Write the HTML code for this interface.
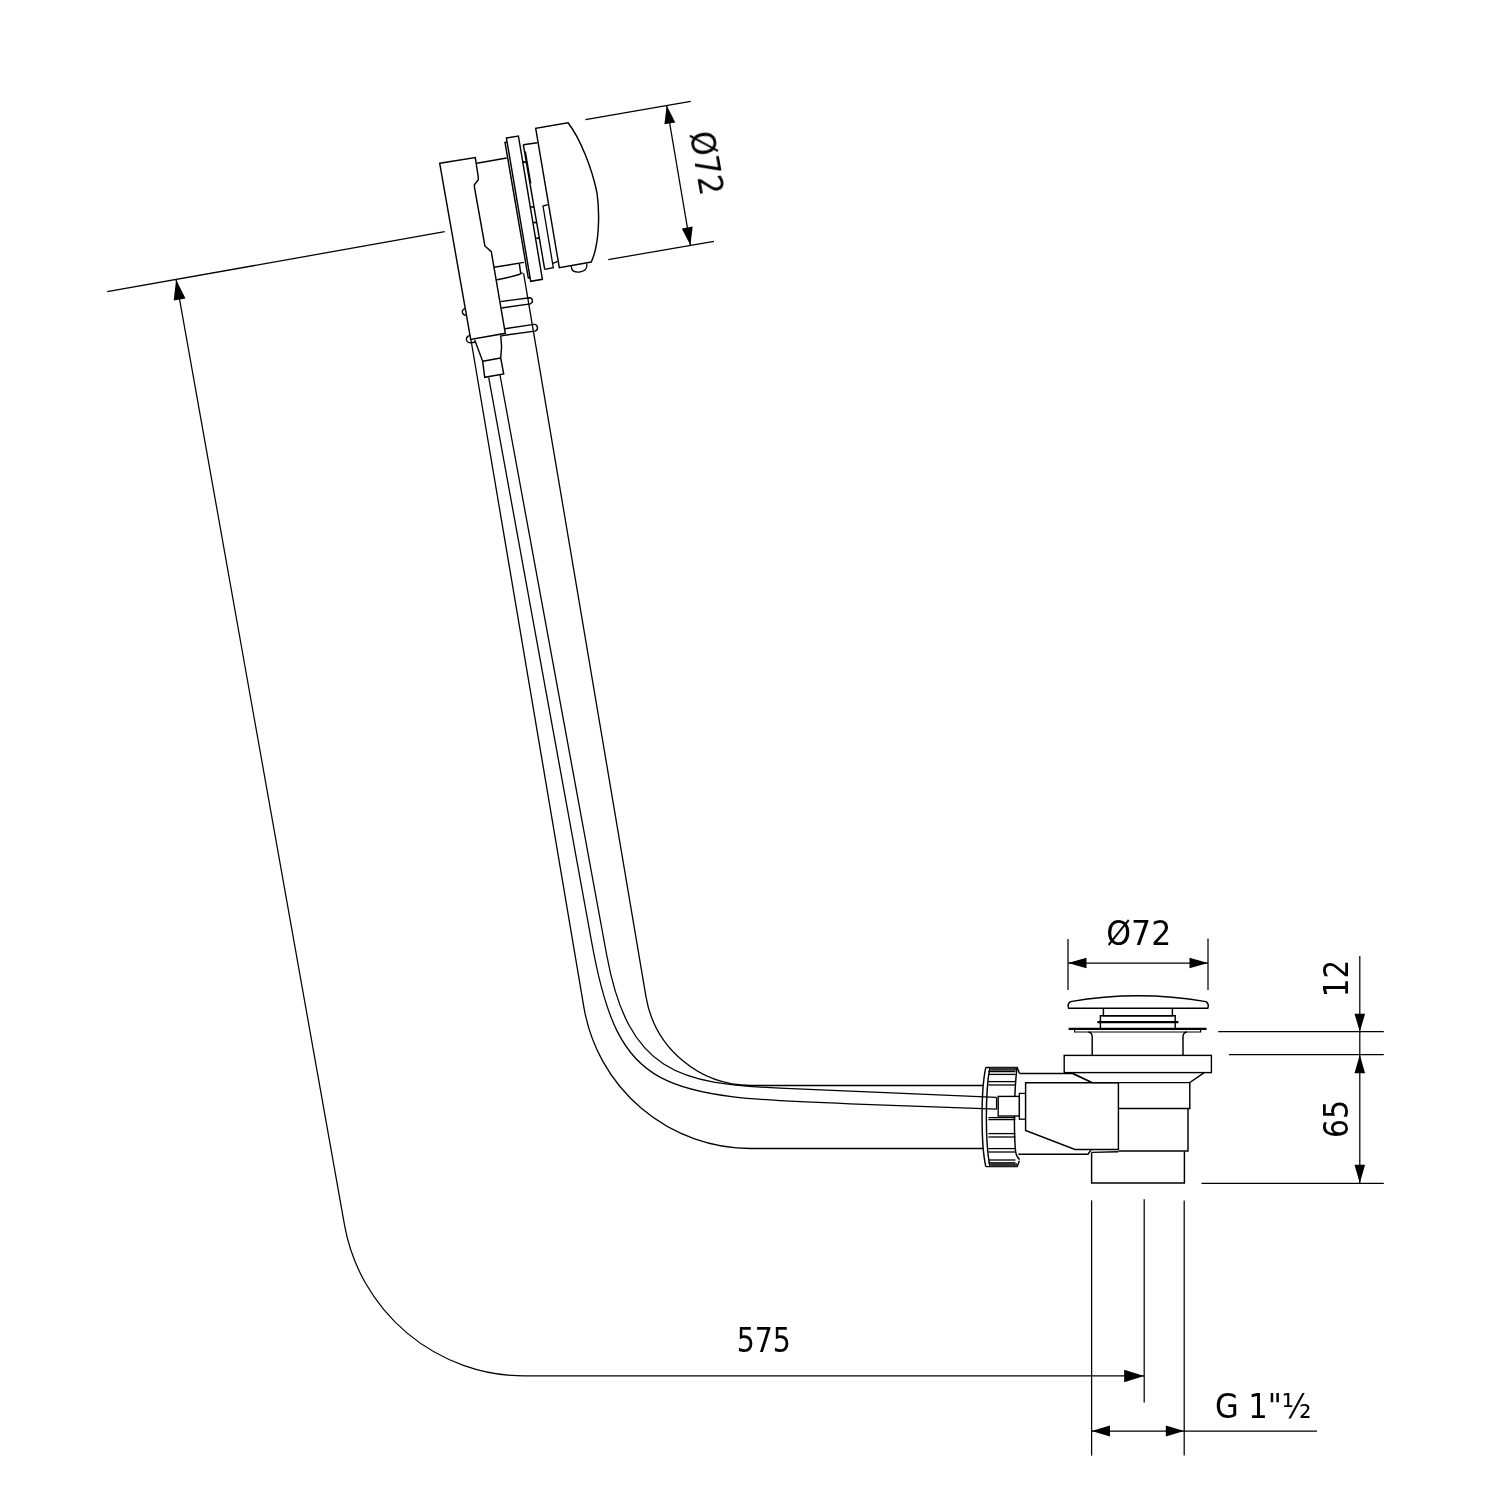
<!DOCTYPE html>
<html><head><meta charset="utf-8"><title>Drawing</title>
<style>html,body{margin:0;padding:0;background:#fff}svg{display:block}</style></head>
<body><svg width="1500" height="1500" viewBox="0 0 1500 1500" fill="none" stroke="#000" stroke-linecap="butt" stroke-linejoin="miter">
<rect x="0" y="0" width="1500" height="1500" fill="#fff" stroke="none"/>
<path d="M176.1,279.8 L344.5,1224.9 A183.1,183.1 0 0 0 524.7,1375.9 L1144.2,1375.9" stroke-width="1.25" />
<path d="M176.1,279.8 L185.5,298.4 L173.7,300.5 Z" fill="#000" stroke="none"/>
<path d="M1144.2,1375.9 L1124.2,1382.2 L1124.2,1369.7 Z" fill="#000" stroke="none"/>
<path d="M107.2,291.7 L444.7,231.7" stroke-width="1.25" />
<path d="M585.5,119.7 L690.7,101.3" stroke-width="1.25" />
<path d="M608.3,259.6 L714.0,241.3" stroke-width="1.25" />
<path d="M666.7,105.6 L690.4,245.3" stroke-width="1.25" />
<path d="M666.7,105.6 L675.3,122.4 L664.4,124.3 Z" fill="#000" stroke="none"/>
<path d="M690.4,245.3 L681.8,228.5 L692.7,226.6 Z" fill="#000" stroke="none"/>
<path d="M1068.0,939.0 L1068.0,990.0" stroke-width="1.25" />
<path d="M1208.0,938.4 L1208.0,990.0" stroke-width="1.25" />
<path d="M1068.0,963.0 L1208.0,963.0" stroke-width="1.25" />
<path d="M1068.0,963.0 L1086.5,957.7 L1086.5,968.3 Z" fill="#000" stroke="none"/>
<path d="M1208.0,963.0 L1189.5,968.3 L1189.5,957.7 Z" fill="#000" stroke="none"/>
<path d="M1359.8,956.0 L1359.8,1183.3" stroke-width="1.25" />
<path d="M1218.3,1031.7 L1383.8,1031.7" stroke-width="1.25" />
<path d="M1228.9,1054.7 L1383.8,1054.7" stroke-width="1.25" />
<path d="M1201.5,1183.3 L1383.8,1183.3" stroke-width="1.25" />
<path d="M1359.8,1031.7 L1354.5,1013.7 L1365.1,1013.7 Z" fill="#000" stroke="none"/>
<path d="M1359.8,1054.7 L1365.1,1073.2 L1354.5,1073.2 Z" fill="#000" stroke="none"/>
<path d="M1359.8,1183.3 L1354.5,1164.8 L1365.1,1164.8 Z" fill="#000" stroke="none"/>
<path d="M1091.6,1200.4 L1091.6,1455.6" stroke-width="1.25" />
<path d="M1144.2,1199.2 L1144.2,1402.4" stroke-width="1.25" />
<path d="M1184.2,1200.4 L1184.2,1455.6" stroke-width="1.25" />
<path d="M1091.6,1431.0 L1317.0,1431.0" stroke-width="1.25" />
<path d="M1091.6,1431.0 L1110.0,1425.5 L1110.0,1436.5 Z" fill="#000" stroke="none"/>
<path d="M1184.2,1431.0 L1165.8,1436.5 L1165.8,1425.5 Z" fill="#000" stroke="none"/>
<path d="M471.0,340.0 L583.9,1007.3 A169.5,169.5 0 0 0 751.0,1148.5 L983.0,1148.5" stroke-width="1.3" />
<path d="M523.6,273.3 L646.0,996.8 A106.5,106.5 0 0 0 751.0,1085.5 L983.0,1085.5" stroke-width="1.3" />
<path d="M488.7,377.3 L592.2,945 C619.1,1092.6 660.1,1096.9 850,1103.8 L996.6,1109.2" stroke-width="1.3" />
<path d="M500,375 L606.7,955 C628.4,1073 680.1,1083.9 780,1088.1 L996.6,1097.4" stroke-width="1.3" />
<path d="M996.6,1097.4 L996.6,1109.2" stroke-width="1.4" />
<path d="M439.7,163.3 L475.3,157.6 L478.3,177.3 L478.3,179.7 L474.4,184.7 L474.4,186.9 L484.9,246.0 L491.3,251.7 L505.3,333.3 L470.7,339.5 Z" stroke-width="1.45" fill="#fff"/>
<path d="M476.7,163.3 L506.7,158.0" stroke-width="1.45" />
<path d="M494.0,267.3 L524.0,262.4" stroke-width="1.45" />
<path d="M519.3,263.7 L520.7,273.3 L522.7,273.3" stroke-width="1.45" />
<path d="M496,280 Q510,277.5 520.7,274" stroke-width="1.45" />
<path d="M506.4,138.0 L518.4,136.0 L542.4,279.3 L530.7,281.3 Z" stroke-width="1.45" fill="#fff"/>
<path d="M507.0,142.2 L505.0,142.4 L528.3,278.0 L530.2,277.8" stroke-width="1.45" />
<path d="M523.3,144.7 L537.3,142.7" stroke-width="1.45" />
<path d="M523.3,144.7 L544.7,269.3" stroke-width="1.45" />
<path d="M525.4,151.3 L530.8,183.3" stroke-width="1.2" />
<path d="M522.0,161.6 L526.2,162.4" stroke-width="1.6" />
<path d="M530.6,206.8 L534.0,207.2" stroke-width="1.6" />
<path d="M533.4,222.4 L536.6,222.8" stroke-width="1.6" />
<path d="M536.2,238.0 L539.4,238.4" stroke-width="1.6" />
<path d="M548.0,204.7 L543.0,206.0 L553.3,267.7 L544.7,269.3" stroke-width="1.3" />
<path d="M553.0,263.4 L557.6,261.4" stroke-width="1.3" />
<path d="M559.3,267.7 L535.7,128.3 L568,122.7 C580,138 592,168 597,193 C599.5,210 599,232 596,246.7 C595,253 593,258 591.3,262 Z" stroke-width="1.45" fill="#fff"/>
<path d="M571.3,266 L571.6,268.5 Q572.5,272.6 579.5,272 Q586.5,271 586.9,266 L586.7,263.7" stroke-width="1.3" />
<path d="M500.7,301.6 L529.5,297.7 A3.2,3.2 0 0 1 530.3,303.9 L501.5,308" stroke-width="1.45" />
<path d="M505,328.7 L534,324.4 A3.4,3.4 0 0 1 534.9,331.1 L501.5,335.7" stroke-width="1.45" />
<path d="M465.0,308.7 A4,3.4 0 0 0 466.1,315.3" stroke-width="1.3" />
<path d="M470.4,335.4 A4.2,3.7 0 0 0 470.8,342.8 L474.9,342.2" stroke-width="1.45" />
<path d="M474.7,340 L482.7,361.3 L484.7,377.3 L503.7,374 L500.7,358 L501.6,346.7 L500.7,335.3" stroke-width="1.45" />
<path d="M482.7,361.3 L500.7,358.0" stroke-width="1.45" />
<path d="M985.8,1067.4 C980.8,1090 980.8,1144 985.8,1166.6" stroke-width="1.45" />
<path d="M989.8,1068 C985.2,1092 985.2,1142 989.8,1166" stroke-width="1.45" />
<path d="M985.8,1067.4 L1017.2,1067.4 L1019.4,1073.2" stroke-width="1.45" />
<path d="M985.8,1166.6 L1017.2,1166.6 L1019.4,1160.8" stroke-width="1.45" />
<rect x="990.2" y="1067.4" width="26.8" height="3.4" fill="#333" stroke="none"/>
<rect x="990.2" y="1163.2" width="26.8" height="3.4" fill="#333" stroke="none"/>
<path d="M1017,1067.4 C1014.2,1090 1013.6,1130 1015.6,1152 Q1016.6,1157 1019.6,1159.6" stroke-width="1.45" />
<path d="M988.4,1071.6 L1015.4,1071.6" stroke-width="1.3" />
<path d="M988.4,1074.4 L1015.4,1074.4" stroke-width="1.3" />
<path d="M988.4,1081.6 L1015.4,1081.6" stroke-width="1.3" />
<path d="M988.4,1085.0 L1015.4,1085.0" stroke-width="1.3" />
<path d="M988.4,1117.6 L1015.4,1117.6" stroke-width="1.3" />
<path d="M988.4,1119.6 L1015.4,1119.6" stroke-width="1.3" />
<path d="M988.4,1133.6 L1015.4,1133.6" stroke-width="1.3" />
<path d="M988.4,1137.0 L1015.4,1137.0" stroke-width="1.3" />
<path d="M988.4,1148.6 L1015.4,1148.6" stroke-width="1.3" />
<path d="M988.4,1152.0 L1015.4,1152.0" stroke-width="1.3" />
<path d="M988.4,1160.0 L1015.4,1160.0" stroke-width="1.3" />
<path d="M988.4,1162.8 L1015.4,1162.8" stroke-width="1.3" />
<rect x="998.2" y="1096.4" width="21.2" height="19.6" fill="#fff" stroke-width="1.4"/>
<rect x="1019.4" y="1093.4" width="6.2" height="25.8" fill="#fff" stroke-width="1.3"/>
<path d="M1019.4,1073.4 L1072.0,1073.4 L1092.0,1082.6" stroke-width="1.45" />
<path d="M1025.6,1082.8 L1118.4,1082.8 L1118.4,1149.4 L1075.0,1149.4 L1025.6,1130.4 Z" stroke-width="1.45" fill="#fff"/>
<path d="M1018.4,1154.2 L1088.0,1154.2 L1091.4,1149.4" stroke-width="1.45" />
<path d="M1068.6,1008.2 L1207.8,1008.2 Q1209.4,1004 1206,1001.6 Q1138,990 1070.4,1001.6 Q1067,1004 1068.6,1008.2 Z" stroke-width="1.45" fill="#fff"/>
<path d="M1103.4,1008.2 L1103.4,1015.8 L1172.4,1015.8 L1172.4,1008.2" stroke-width="1.45" />
<path d="M1100.4,1028.0 L1100.4,1015.8 L1175.2,1015.8 L1175.2,1028.0" stroke-width="1.45" />
<path d="M1097.4,1022.2 L1178.4,1022.2" stroke-width="2.2" />
<path d="M1068.6,1028.8 L1206.6,1028.8" stroke-width="2.2" />
<path d="M1074.6,1029.0 L1074.6,1032.0 L1200.6,1032.0 L1200.6,1029.0" stroke-width="1.2" />
<path d="M1088.4,1032 Q1092.2,1032.5 1092.2,1037 L1092.2,1055.4" stroke-width="1.45" />
<path d="M1186.8,1032 Q1183,1032.5 1183,1037 L1183,1055.4" stroke-width="1.45" />
<rect x="1064.2" y="1055.4" width="147.2" height="17.2" fill="#fff" stroke-width="1.4"/>
<path d="M1071.6,1072.6 L1092.0,1082.6 L1189.8,1082.6 L1204.2,1072.6" stroke-width="1.45" />
<path d="M1189.8,1082.6 L1189.8,1108.4 L1118.4,1108.4" stroke-width="1.45" />
<path d="M1188.0,1108.4 L1188.0,1151.0 L1118.4,1151.0" stroke-width="1.45" />
<path d="M1091.6,1152.4 L1091.6,1183.0 L1184.4,1183.0 L1184.4,1151.4" stroke-width="1.45" />
<path d="M1091.6,1152.4 L1118.4,1151.8" stroke-width="1.45" />
<g style="opacity:0.999">
<text transform="translate(736.65,1351.60) scale(0.9539,1)" font-family="'DejaVu Sans Condensed', 'DejaVu Sans', 'Liberation Sans', sans-serif" font-size="33.1" fill="#000" stroke="none">575</text>
<text transform="translate(1106.30,944.70) scale(1.0591,1)" font-family="'DejaVu Sans Condensed', 'DejaVu Sans', 'Liberation Sans', sans-serif" font-size="33.1" fill="#000" stroke="none">Ø72</text>
<text transform="translate(1214.90,1418.40) scale(1.0278,1)" font-family="'DejaVu Sans Condensed', 'DejaVu Sans', 'Liberation Sans', sans-serif" font-size="33.1" fill="#000" stroke="none">G 1"½</text>
<text transform="translate(1348.20,997.20) rotate(-90) scale(0.9847,1)" font-family="'DejaVu Sans Condensed', 'DejaVu Sans', 'Liberation Sans', sans-serif" font-size="33.1" fill="#000" stroke="none">12</text>
<text transform="translate(1348.20,1138.05) rotate(-90) scale(1.0023,1)" font-family="'DejaVu Sans Condensed', 'DejaVu Sans', 'Liberation Sans', sans-serif" font-size="33.1" fill="#000" stroke="none">65</text>
<text transform="translate(689.40,133.40) rotate(79.9) scale(1.0523,1)" font-family="'DejaVu Sans Condensed', 'DejaVu Sans', 'Liberation Sans', sans-serif" font-size="33.1" fill="#000" stroke="none">Ø72</text>
</g>
</svg></body></html>
